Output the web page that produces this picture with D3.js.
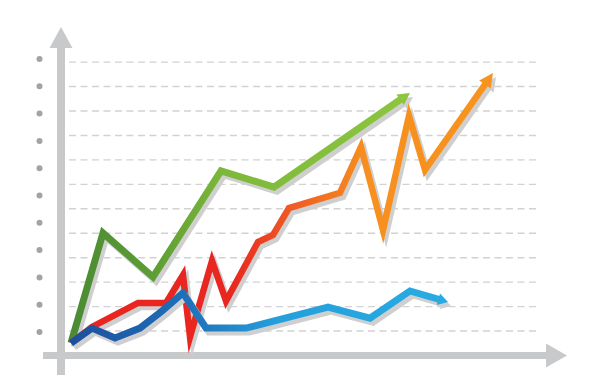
<!DOCTYPE html>
<html>
<head>
<meta charset="utf-8">
<script src="https://cdn.jsdelivr.net/npm/d3@7"></script>
<style>
  html, body { margin: 0; padding: 0; background: #ffffff; }
  svg { display: block; }
</style>
</head>
<body>
<svg id="chart" width="600" height="388"></svg>
<script>
// Gridline levels and left-side marker dots
const gridLevels = [1, 2, 3, 4, 5, 6, 7, 8, 9, 10, 11, 12];
const dotMarks = [0, 1, 2, 3, 4, 5, 6, 7, 8, 9, 10];

// Series: x positions and values
const greenX = [2.0, 8.4, 18.4, 32.0, 42.6, 69.8];
const greenY = [0.51, 5.01, 3.21, 7.55, 6.89, 10.74];

const redX = [2.0, 6.2, 15.4, 21.0, 24.4, 25.8, 30.2, 33.0, 39.4, 42.4, 45.6, 55.8, 60.0, 64.4, 69.6, 72.8, 86.4];
const redY = [0.51, 1.17, 2.15, 2.15, 3.29, 0.76, 3.87, 2.23, 4.64, 4.93, 6.03, 6.65, 8.53, 5.13, 9.80, 7.59, 11.55];

const blueX = [2.0, 6.2, 10.8, 15.8, 20.2, 24.4, 29.0, 37.0, 53.4, 61.8, 69.8, 77.4];
const blueY = [0.51, 1.12, 0.72, 1.12, 1.82, 2.56, 1.12, 1.12, 1.98, 1.53, 2.64, 2.19];

const svg = d3.select("#chart");
const x = d3.scaleLinear().domain([0, 100]).range([61, 561]);
const y = d3.scaleLinear().domain([0, 12]).range([355.5, 62.1]);
const dotY = d3.scalePoint().domain(dotMarks).range([332, 59]);

const axisColor = "#c8c9cb";

// dashed gridlines
svg.append("g").selectAll("line").data(gridLevels).join("line")
  .attr("x1", 69).attr("x2", 540)
  .attr("y1", d => y(d)).attr("y2", d => y(d))
  .attr("stroke", "#d2d2d2").attr("stroke-width", 1.4)
  .attr("stroke-dasharray", "7,4.5");

// dots beside the vertical axis
svg.append("g").selectAll("circle").data(dotMarks).join("circle")
  .attr("cx", 39.5).attr("cy", d => dotY(d)).attr("r", 3)
  .attr("fill", "#a3a3a3");

// vertical axis with arrowhead
svg.append("rect").attr("x", 57).attr("y", 46).attr("width", 8).attr("height", 329).attr("fill", axisColor);
svg.append("path").attr("d", "M61,27 L72.5,48 L49.5,48 Z").attr("fill", axisColor);

// horizontal axis with arrowhead
svg.append("rect").attr("x", 43).attr("y", 352).attr("width", 506).attr("height", 7).attr("fill", axisColor);
svg.append("path").attr("d", "M567,355.5 L546,343.5 L546,367.5 Z").attr("fill", axisColor);

const defs = svg.append("defs");

function gradient(id, x1, x2, stops) {
  const g = defs.append("linearGradient").attr("id", id)
    .attr("gradientUnits", "userSpaceOnUse")
    .attr("x1", x1).attr("x2", x2).attr("y1", 0).attr("y2", 0);
  stops.forEach(s => g.append("stop").attr("offset", s[0]).attr("stop-color", s[1]));
}

const line = d3.line().x(d => x(d[0])).y(d => y(d[1]));

function drawSeries(xs, ys, opts) {
  const pts = xs.map((v, i) => [v, ys[i]]);
  const n = pts.length;
  const tip = [x(pts[n - 1][0]), y(pts[n - 1][1])];
  const prev = [x(pts[n - 2][0]), y(pts[n - 2][1])];
  const dx = tip[0] - prev[0], dy = tip[1] - prev[1];
  const len = Math.hypot(dx, dy);
  const ux = dx / len, uy = dy / len, px = -uy, py = ux;
  const L = opts.headLen, W = opts.headWidth;
  const bx = tip[0] - ux * L, by = tip[1] - uy * L;
  const head = `M${tip[0]},${tip[1]} L${bx + px * W / 2},${by + py * W / 2} L${bx - px * W / 2},${by - py * W / 2} Z`;
  // shaft stops inside the arrowhead
  const shaftEnd = [x.invert(tip[0] - ux * L * 0.7), y.invert(tip[1] - uy * L * 0.7)];
  const shaft = pts.slice(0, n - 1).concat([shaftEnd]);

  const sg = svg.append("g").attr("transform", "translate(3,4)");
  sg.append("path").attr("d", line(shaft)).attr("fill", "none")
    .attr("stroke", "#cfcfcf").attr("stroke-width", opts.width)
    .attr("stroke-linejoin", "miter").attr("stroke-miterlimit", 10);
  sg.append("path").attr("d", head).attr("fill", "#cfcfcf");

  const g = svg.append("g");
  g.append("path").attr("d", line(shaft)).attr("fill", "none")
    .attr("stroke", `url(#${opts.grad})`).attr("stroke-width", opts.width)
    .attr("stroke-linejoin", "miter").attr("stroke-miterlimit", 10);
  g.append("path").attr("d", head).attr("fill", opts.headColor);
}

gradient("gGreen", 70, 412, [[0, "#4a8a33"], [0.25, "#5e9e35"], [0.45, "#7db83a"], [1, "#8cc63f"]]);
gradient("gRed", 70, 495, [[0, "#e82420"], [0.38, "#e9271f"], [0.52, "#ef5a25"], [0.7, "#f7901e"], [1, "#f7931e"]]);
gradient("gBlue", 70, 450, [[0, "#1c4f9d"], [0.3, "#1f6fb8"], [0.55, "#24a0dd"], [1, "#29abe2"]]);

drawSeries(greenX, greenY, { grad: "gGreen", width: 7, headLen: 12, headWidth: 13, headColor: "#8cc63f" });
drawSeries(redX, redY, { grad: "gRed", width: 6.5, headLen: 14, headWidth: 14, headColor: "#f7931e" });
drawSeries(blueX, blueY, { grad: "gBlue", width: 7, headLen: 10, headWidth: 12, headColor: "#29abe2" });
</script>
</body>
</html>
